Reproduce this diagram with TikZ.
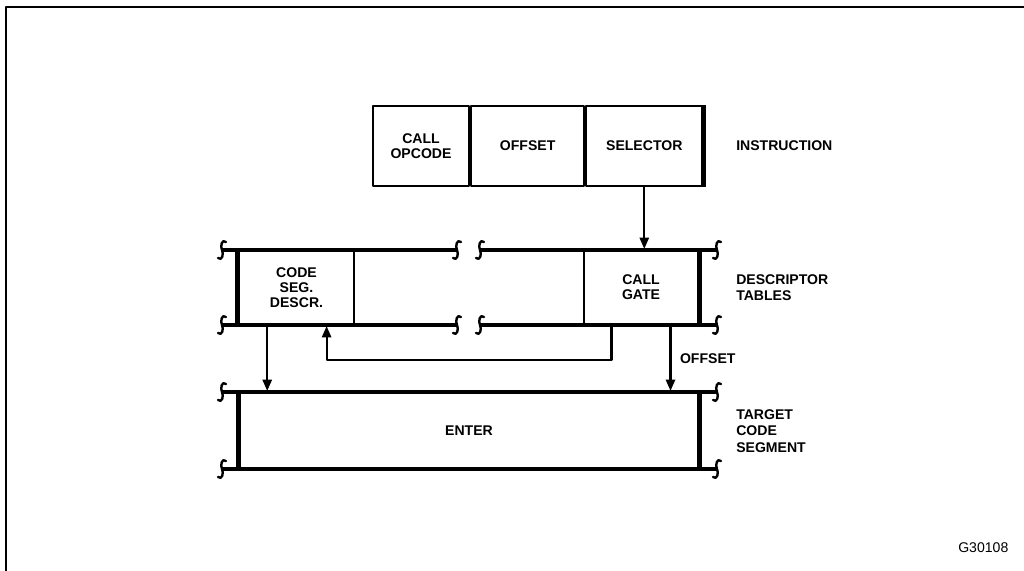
\documentclass[tikz,border=0pt]{standalone}
\usepackage{fontspec}
\setmainfont{Liberation Sans}
\usetikzlibrary{arrows.meta,calc,positioning}
\tikzset{
  field/.style={draw,line width=1.5pt,minimum height=2cm,inner sep=0pt,align=center,
    font=\bfseries\fontsize{10}{10.5}\selectfont},
  rail/.style={line width=2.4pt},
  edge bar/.style={line width=3.5pt},
  link/.style={line width=1.5pt,-{Triangle[length=8pt,width=6.5pt]}},
  side label/.style={anchor=west,align=left,inner sep=0pt,font=\bfseries\fontsize{10}{11.5}\selectfont},
  break mark/.pic={\draw[line width=1.7pt,line cap=round] (4,-8) .. controls (0,-11.5) and (-2,-4) .. (0,0)
    .. controls (2,4) and (0,11.5) .. (-4,8);}
}
\newcommand{\BreakRail}[3]{\draw[rail] (#1,#3) -- (#2,#3); \pic at (#1,#3) {break mark}; \pic at (#2,#3) {break mark};}

\begin{document}
\begin{tikzpicture}[x=0.025cm,y=-0.025cm,line join=round]
  \useasboundingbox (0,0) rectangle (1024,571);
  \draw[line width=1.6pt] (6,571) -- (6,7) -- (1024,7);

  % instruction
  \node[field,minimum width=2.4cm] (opcode) at (421,146) {CALL\\OPCODE};
  \node[field,minimum width=2.825cm,right=0pt of opcode] (offset) {OFFSET};
  \node[field,minimum width=2.9cm,right=0pt of offset] (selector) {SELECTOR};
  \draw[edge bar] (selector.north east) -- (selector.south east);
  \node[side label] (instr) at (736,146) {INSTRUCTION};

  % descriptor tables
  \node[field,minimum width=2.875cm,minimum height=1.875cm] (descr) at (296.5,287.5) {CODE\\SEG.\\DESCR.};
  \node[field,minimum width=2.85cm,minimum height=1.875cm] (gate) at (641,287.5) {CALL\\GATE};
  \BreakRail{222}{457}{250}
  \BreakRail{222}{457}{325}
  \BreakRail{480}{717}{250}
  \BreakRail{480}{717}{325}
  \draw[edge bar] (descr.north west) -- (descr.south west);
  \draw[edge bar] (gate.north east) -- (gate.south east);
  \node[side label] (dtab) at (736,288) {DESCRIPTOR\\TABLES};

  % target code segment
  \node[field,minimum width=11.45cm,minimum height=1.925cm] (target) at (469,430.5) {ENTER};
  \BreakRail{222}{717}{392}
  \BreakRail{222}{717}{469}
  \draw[edge bar] (target.north west) -- (target.south west);
  \draw[edge bar] (target.north east) -- (target.south east);
  \node[side label] (tseg) at (736,431) {TARGET\\CODE\\SEGMENT};

  % connectors
  \coordinate (seg out) at ($(descr.south west)!0.25!(descr.south east)$);
  \coordinate (descr in) at ($(descr.south west)!0.757!(descr.south east)$);
  \coordinate (gate out) at ($(gate.south west)!0.246!(gate.south east)$);
  \coordinate (gate off) at ($(gate.south west)!0.754!(gate.south east)$);
  \draw[link] (selector.south) -- (selector.south |- gate.north);
  \draw[link] (seg out) -- (seg out |- target.north);
  \draw[link] (gate out) -- ++(0,34) -| (descr in);
  \draw[link] (gate off) -- node[side label,right=6pt] (offlbl) {OFFSET} (gate off |- target.north);

  \node[side label] (fig) at (958,548) {\mdseries G30108};
\end{tikzpicture}
\end{document}
